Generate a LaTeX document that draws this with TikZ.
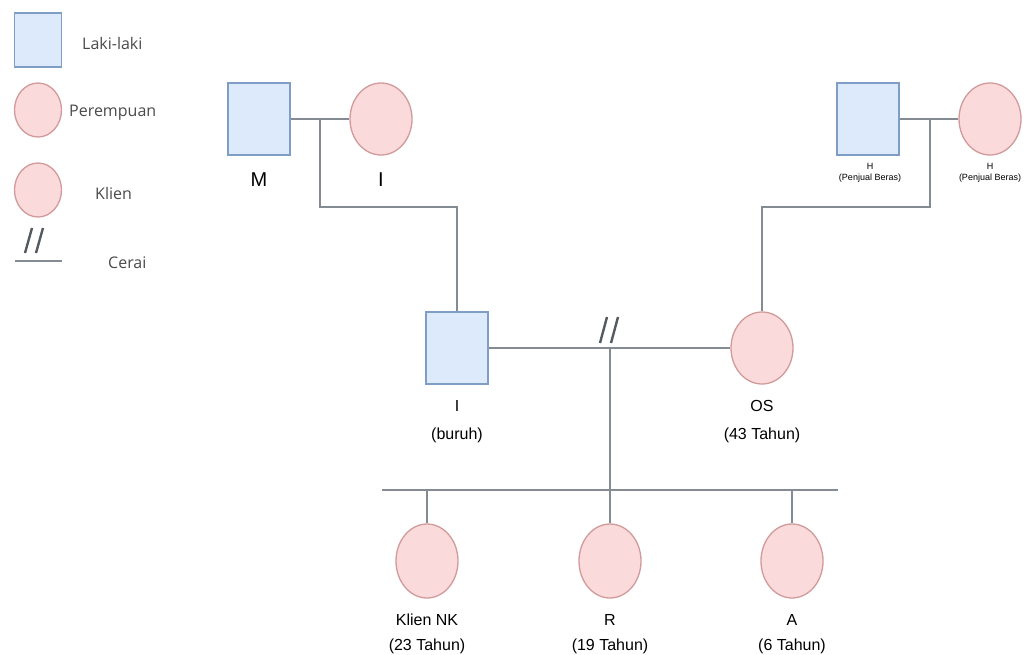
\documentclass[tikz,border=0pt]{standalone}
\usepackage{fontspec}
\setmainfont{Liberation Sans}
\newfontfamily\legendfont{Open Sans}
\usetikzlibrary{shapes.geometric}

\definecolor{malefill}{HTML}{DCEAFB}
\definecolor{maleline}{HTML}{7E9EC6}
\definecolor{femfill}{HTML}{FADADA}
\definecolor{femline}{HTML}{D29A9A}
\definecolor{linkgray}{HTML}{858B92}
\definecolor{slashgray}{HTML}{555A60}
\definecolor{legendtext}{HTML}{4A4A4A}

\tikzset{
  malebox/.style={draw=maleline, fill=malefill, line width=1.3pt,
    minimum width=62pt, minimum height=72pt, inner sep=0pt},
  femalebox/.style={ellipse, draw=femline, fill=femfill, line width=1.3pt,
    minimum width=62pt, minimum height=72pt, inner sep=0pt},
  keymale/.style={malebox, minimum width=47pt, minimum height=54pt},
  keyfemale/.style={femalebox, minimum width=47pt, minimum height=54pt},
  kinline/.style={draw=linkgray, line width=2pt},
  slashmark/.style={draw=slashgray, line width=2.4pt},
  keytext/.style={anchor=west, inner sep=0pt, text=legendtext,
    font=\legendfont\fontsize{16}{18}\selectfont},
  bigname/.style={inner sep=0pt, font=\fontsize{20}{22}\selectfont},
  personlabel/.style={inner sep=0pt, font=\fontsize{16}{18}\selectfont},
  smalllabel/.style={inner sep=0pt, align=center,
    font=\fontsize{9}{11}\selectfont},
}

\begin{document}
\begin{tikzpicture}[x=1pt, y=-1pt]
\useasboundingbox (0,0) rectangle (1027,654);

% key
\node[keymale]   (keyM) at (38,40)  {};
\node[keyfemale] (keyF) at (38,110) {};
\node[keyfemale] (keyK) at (38,190) {};
\coordinate (keyLa) at (15,261);
\coordinate (keyLb) at (62,261);
\draw[kinline] (keyLa) -- (keyLb);
\draw[slashmark] (25,253) -- (32,228);
\draw[slashmark] (36,253) -- (43,228);
\node[keytext] (tM) at (82,43)  {Laki-laki};
\node[keytext] (tF) at (69,113) {Perempuan};
\node[keytext] (tK) at (95,193) {Klien};
\node[keytext] (tC) at (108,263) {Cerai};

% grandparents
\node[malebox]   (M)  at (259,119) {};
\node[femalebox] (Iw) at (381,119) {};
\node[malebox]   (H1) at (868,119) {};
\node[femalebox] (H2) at (990,119) {};
\node[bigname] (lM)  at (259,180) {M};
\node[bigname] (lIw) at (381,180) {I};
\node[smalllabel] (lH1) at (870,173) {H\\(Penjual Beras)};
\node[smalllabel] (lH2) at (990,173) {H\\(Penjual Beras)};

% parents
\node[malebox]   (Ih) at (457,348) {};
\node[femalebox] (OS) at (762,348) {};
\node[personlabel] (lIh)  at (457,406) {I};
\node[personlabel] (lIh2) at (457,435) {(buruh)};
\node[personlabel] (lOS)  at (762,406) {OS};
\node[personlabel] (lOS2) at (762,435) {(43 Tahun)};

% children
\node[femalebox, minimum height=74pt] (NK) at (427,561) {};
\node[femalebox, minimum height=74pt] (R)  at (610,561) {};
\node[femalebox, minimum height=74pt] (A)  at (792,561) {};
\node[personlabel] (lNK)  at (427,620) {Klien NK};
\node[personlabel] (lNK2) at (427,646) {(23 Tahun)};
\node[personlabel] (lR)   at (610,620) {R};
\node[personlabel] (lR2)  at (610,646) {(19 Tahun)};
\node[personlabel] (lA)   at (792,620) {A};
\node[personlabel] (lA2)  at (792,646) {(6 Tahun)};

% marriages and descent lines
\coordinate (j1) at (320,119);
\coordinate (k1) at (320,207);
\coordinate (j2) at (930,119);
\coordinate (k2) at (930,207);
\coordinate (j3) at (610,348);
\coordinate (sibL) at (382,490);
\coordinate (sibR) at (838,490);
\coordinate (sibM) at (610,490);

\draw[kinline] (M) -- (Iw);
\draw[kinline] (H1) -- (H2);
\draw[kinline] (j1) -- (k1) -| (Ih.north);
\draw[kinline] (j2) -- (k2) -| (OS.north);
\draw[kinline] (Ih) -- (OS);
\draw[kinline] (j3) -- (sibM);
\draw[kinline] (sibL) -- (sibR);
\draw[kinline] (NK.north) -- (NK.north |- sibL);
\draw[kinline] (R.north) -- (sibM);
\draw[kinline] (A.north) -- (A.north |- sibL);

% divorce mark
\draw[slashmark] (600,343) -- (607,317);
\draw[slashmark] (611,343) -- (618,317);
\end{tikzpicture}
\end{document}
